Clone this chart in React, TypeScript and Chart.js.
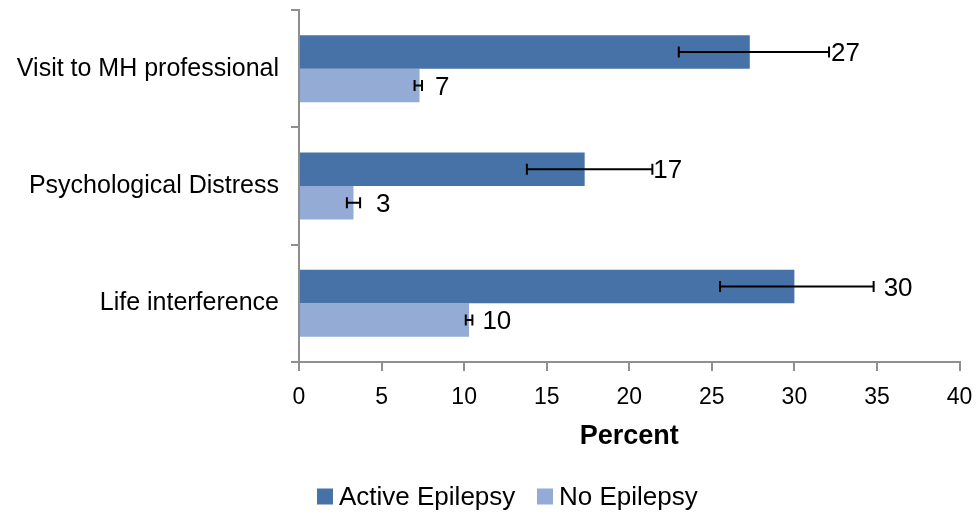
import React, { useEffect, useRef } from "react";
import { Chart, registerables } from "chart.js";

Chart.register(...registerables);

const categories = ["Visit to MH professional", "Psychological Distress", "Life interference"];
const seriesNames = ["Active Epilepsy", "No Epilepsy"];
const activeValues = [27.3, 17.3, 30.0];
const noValues = [7.3, 3.3, 10.3];
const activeLower = [23.0, 13.8, 25.5];
const activeUpper = [32.1, 21.4, 34.8];
const noLower = [7.0, 2.9, 10.1];
const noUpper = [7.45, 3.7, 10.5];
const activeLabels = ["27", "17", "30"];
const noLabels = ["7", "3", "10"];
const xTicks = [0, 5, 10, 15, 20, 25, 30, 35, 40];

const FONT = "'Liberation Sans', Arial, Helvetica, sans-serif";
const DARK = "#4672a8";
const LIGHT = "#94acd5";
const AXIS = "#8f8f8f";
// label gap after error bar end (px), style only
const labelGap = [
  [2, 1, 10],
  [13, 16, 10],
];

const errorPlugin = {
  id: "errorBarsAndLabels",
  afterDatasetsDraw(chart: any) {
    const ctx = chart.ctx;
    const xs = chart.scales.x;
    const lows = [activeLower, noLower];
    const ups = [activeUpper, noUpper];
    const labs = [activeLabels, noLabels];
    ctx.save();
    for (let d = 0; d < 2; d++) {
      const meta = chart.getDatasetMeta(d);
      meta.data.forEach((bar: any, i: number) => {
        const y = bar.y;
        const x1 = xs.getPixelForValue(lows[d][i]);
        const x2 = xs.getPixelForValue(ups[d][i]);
        ctx.strokeStyle = "#000";
        ctx.lineWidth = 2;
        ctx.beginPath();
        ctx.moveTo(x1, y);
        ctx.lineTo(x2, y);
        ctx.moveTo(x1, y - 5.5);
        ctx.lineTo(x1, y + 5.5);
        ctx.moveTo(x2, y - 5.5);
        ctx.lineTo(x2, y + 5.5);
        ctx.stroke();
        ctx.fillStyle = "#000";
        ctx.font = `26px ${FONT}`;
        ctx.textAlign = "left";
        ctx.textBaseline = "middle";
        ctx.fillText(labs[d][i], x2 + labelGap[d][i], y + 2);
      });
    }
    ctx.restore();
  },
  afterDraw(chart: any) {
    const ctx = chart.ctx;
    ctx.save();
    ctx.font = `26px ${FONT}`;
    ctx.textAlign = "left";
    ctx.textBaseline = "middle";
    const colors = [DARK, LIGHT];
    const boxX = [317, 537];
    const cy = 496.5;
    for (let i = 0; i < 2; i++) {
      ctx.fillStyle = colors[i];
      ctx.fillRect(boxX[i], cy - 8, 16, 16);
      ctx.fillStyle = "#000";
      ctx.fillText(seriesNames[i], boxX[i] + 22, cy + 1);
    }
    ctx.restore();
  },
};

export default function App() {
  const ref = useRef<HTMLCanvasElement | null>(null);
  useEffect(() => {
    if (!ref.current) return;
    const chart = new Chart(ref.current, {
      type: "bar",
      data: {
        labels: categories,
        datasets: [
          { label: seriesNames[0], data: activeValues, backgroundColor: DARK, borderWidth: 0 },
          { label: seriesNames[1], data: noValues, backgroundColor: LIGHT, borderWidth: 0 },
        ],
      },
      options: {
        indexAxis: "y",
        responsive: false,
        animation: false,
        devicePixelRatio: 1,
        layout: { padding: { top: 10, right: 19.5, left: 0, bottom: 0 } },
        datasets: { bar: { categoryPercentage: 0.571, barPercentage: 1 } } as any,
        plugins: {
          legend: { display: false },
          tooltip: { enabled: false },
        },
        scales: {
          x: {
            type: "linear",
            min: 0,
            max: 40,
            afterBuildTicks: (s: any) => {
              s.ticks = xTicks.map((v) => ({ value: v }));
            },
            ticks: { font: { size: 23, family: FONT }, color: "#000", padding: 13 },
            grid: { drawOnChartArea: false, drawTicks: true, tickLength: 9, color: AXIS, lineWidth: 2 },
            border: { display: true, color: AXIS, width: 2 },
            title: {
              display: true,
              text: "Percent",
              color: "#000",
              font: { size: 27, weight: "bold", family: FONT },
              padding: { top: 0, bottom: 60.8 },
            },
            afterFit: (s: any) => {
              s.height = 152;
              s.paddingLeft = 0;
              s.paddingRight = 0;
            },
          },
          y: {
            type: "category",
            ticks: { font: { size: 25, family: FONT }, color: "#000", padding: 12 },
            grid: { drawOnChartArea: false, drawTicks: true, tickLength: 8, color: AXIS, lineWidth: 2 },
            border: { display: true, color: AXIS, width: 2 },
            afterFit: (s: any) => {
              s.width = 299;
              s.paddingTop = 0;
              s.paddingBottom = 0;
            },
          },
        },
      } as any,
      plugins: [errorPlugin],
    });
    return () => chart.destroy();
  }, []);
  return (
    <div style={{ position: "fixed", left: 0, top: 0, width: 979, height: 514, background: "#fff" }}>
      <canvas ref={ref} width={979} height={514} style={{ display: "block" }} />
    </div>
  );
}
